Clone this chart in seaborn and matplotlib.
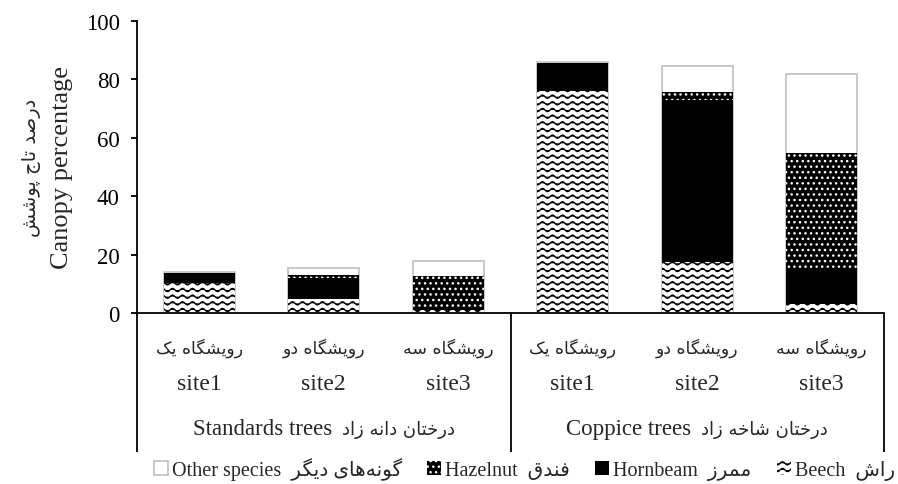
"""Canopy percentage of species in standards vs coppice stands (stacked bars)."""
import warnings

import matplotlib
matplotlib.use("Agg")
import matplotlib.hatch as mhatch
import matplotlib.pyplot as plt
import numpy as np
import pandas as pd
import seaborn as sns
from matplotlib.patches import Patch
from matplotlib.path import Path

warnings.filterwarnings("ignore")

# ---------------------------------------------------------------- data
SITES = ["site1", "site2", "site3", "site1", "site2", "site3"]
SITES_FA = ["رویشگاه یک", "رویشگاه دو", "رویشگاه سه",
            "رویشگاه یک", "رویشگاه دو", "رویشگاه سه"]
GROUPS = ["Standards trees", "Coppice trees"]
GROUPS_FA = ["درختان دانه زاد", "درختان شاخه زاد"]
SPECIES = ["Beech", "Hornbeam", "Hazelnut", "Other species"]
SPECIES_FA = ["راش", "ممرز", "فندق", "گونه‌های دیگر"]
YLABEL = "Canopy percentage"
YLABEL_FA = "درصد تاج پوشش"

beech = [10.2, 4.8, 1.0, 76.1, 17.4, 3.1]
hornbeam = [3.5, 7.2, 0.3, 9.3, 55.4, 12.0]
hazelnut = [0.0, 1.0, 11.2, 0.3, 2.8, 39.7]
other = [0.3, 2.4, 5.2, 0.3, 8.9, 27.0]

SERIF = ["Liberation Serif", "DejaVu Sans"]
ARABIC = ["DejaVu Sans"]


# ---------------------------------------------------------------- persian shaping
# (isolated, final, initial, medial) presentation forms
FORMS = {
    "ا": ("\uFE8D", "\uFE8E", None, None),
    "پ": ("\uFB56", "\uFB57", "\uFB58", "\uFB59"),
    "ت": ("\uFE95", "\uFE96", "\uFE97", "\uFE98"),
    "ج": ("\uFE9D", "\uFE9E", "\uFE9F", "\uFEA0"),
    "خ": ("\uFEA5", "\uFEA6", "\uFEA7", "\uFEA8"),
    "د": ("\uFEA9", "\uFEAA", None, None),
    "ر": ("\uFEAD", "\uFEAE", None, None),
    "ز": ("\uFEAF", "\uFEB0", None, None),
    "س": ("\uFEB1", "\uFEB2", "\uFEB3", "\uFEB4"),
    "ش": ("\uFEB5", "\uFEB6", "\uFEB7", "\uFEB8"),
    "ص": ("\uFEB9", "\uFEBA", "\uFEBB", "\uFEBC"),
    "ف": ("\uFED1", "\uFED2", "\uFED3", "\uFED4"),
    "ق": ("\uFED5", "\uFED6", "\uFED7", "\uFED8"),
    "ک": ("\uFB8E", "\uFB8F", "\uFB90", "\uFB91"),
    "گ": ("\uFB92", "\uFB93", "\uFB94", "\uFB95"),
    "م": ("\uFEE1", "\uFEE2", "\uFEE3", "\uFEE4"),
    "ن": ("\uFEE5", "\uFEE6", "\uFEE7", "\uFEE8"),
    "ه": ("\uFEE9", "\uFEEA", "\uFEEB", "\uFEEC"),
    "و": ("\uFEED", "\uFEEE", None, None),
    "ی": ("\uFBFC", "\uFBFD", "\uFBFE", "\uFBFF"),
}


def fa(text):
    """Shape persian letters and return them in visual (left-to-right) order."""
    out = []
    for i, c in enumerate(text):
        if c not in FORMS:
            if c != "\u200c":
                out.append(c)
            continue
        prev = text[i - 1] if i > 0 else None
        nxt = text[i + 1] if i + 1 < len(text) else None
        join_prev = prev in FORMS and FORMS[prev][2] is not None
        join_next = FORMS[c][2] is not None and nxt in FORMS
        iso, fin, ini, med = FORMS[c]
        if join_prev and join_next:
            out.append(med)
        elif join_prev:
            out.append(fin)
        elif join_next:
            out.append(ini)
        else:
            out.append(iso)
    return "".join(out)[::-1]


# ---------------------------------------------------------------- wavy hatch
class WaveHatch(mhatch.HatchPatternBase):
    rows, waves, steps = 15, 10, 8

    def __init__(self, hatch, density):
        self.num_rows = self.rows if "z" in hatch else 0
        self.pts = self.waves * self.steps + 1
        self.num_vertices = self.num_rows * self.pts

    def set_vertices_and_codes(self, vertices, codes):
        xs = np.linspace(0.0, 1.0, self.pts)
        for k in range(self.num_rows):
            seg = slice(k * self.pts, (k + 1) * self.pts)
            vertices[seg, 0] = xs
            vertices[seg, 1] = (k + 0.5) / self.num_rows + 0.016 * np.sin(2 * np.pi * self.waves * xs)
            codes[seg] = Path.LINETO
            codes[k * self.pts] = Path.MOVETO


mhatch._hatch_types.append(WaveHatch)

STYLES = {
    "Other species": dict(color="white", edgecolor="#bfbfbf", linewidth=1.2),
    "Hazelnut": dict(color="black", edgecolor="white", linewidth=0, hatch="..."),
    "Hornbeam": dict(color="black", edgecolor="black", linewidth=0),
    "Beech": dict(color="white", edgecolor="black", linewidth=0, hatch="z"),
}


def main():
    sns.set_style("ticks")
    plt.rcParams["font.family"] = SERIF
    plt.rcParams["hatch.linewidth"] = 1.0

    df = pd.DataFrame({"bar": range(len(SITES)), "Beech": beech, "Hornbeam": hornbeam,
                       "Hazelnut": hazelnut, "Other species": other})
    cum = df[SPECIES].cumsum(axis=1)
    cum["bar"] = df["bar"]

    fig = plt.figure(figsize=(8.98, 4.85), dpi=100)
    ax = fig.add_axes([0.1526, 0.3526, 0.8318, 0.6021])

    # stacked bars: draw cumulative totals from the top series down
    for sp in SPECIES[::-1]:
        st = dict(STYLES[sp])
        col = st.pop("color")
        sns.barplot(data=cum, x="bar", y=sp, color=col, saturation=1, width=0.57,
                    errorbar=None, ax=ax, **st)

    ax.set_xlim(-0.5, 5.5)
    ax.set_ylim(0, 100)
    ax.set_yticks(range(0, 101, 20))
    ax.set_xlabel("")
    ax.set_ylabel("")
    ax.tick_params(axis="x", length=0, labelbottom=False)
    ax.tick_params(axis="y", length=4.5, width=1.3, pad=8, labelsize=16.5, colors="black")
    for s in ["top", "right"]:
        ax.spines[s].set_visible(False)
    for s in ["left", "bottom"]:
        ax.spines[s].set_linewidth(1.3)
        ax.spines[s].set_color("black")

    xt = ax.get_xaxis_transform()
    for i in range(len(SITES)):
        ax.text(i, -0.116, fa(SITES_FA[i]), transform=xt, ha="center", va="center",
                family=ARABIC, fontsize=12.5)
        ax.text(i, -0.243, SITES[i], transform=xt, ha="center", va="center", fontsize=17)
    for xb in [-0.5, 2.5, 5.5]:
        ax.plot([xb, xb], [0, -0.476], transform=xt, color="black", lw=1.3,
                clip_on=False, solid_capstyle="butt")

    # group labels: english + persian, centred together under each group
    renderer = fig.canvas.get_renderer()
    inv = ax.transData.inverted()
    gap = 10
    for g in range(len(GROUPS)):
        cx = 3 * g + 1
        t_en = ax.text(cx, -0.397, GROUPS[g], transform=xt, ha="right", va="center",
                       fontsize=16.5)
        t_fa = ax.text(cx, -0.397, fa(GROUPS_FA[g]), transform=xt, ha="left", va="center",
                       family=ARABIC, fontsize=13)
        w_en = t_en.get_window_extent(renderer).width
        w_fa = t_fa.get_window_extent(renderer).width
        px = ax.transData.transform((cx, 0))[0] + (w_en - w_fa) / 2
        t_en.set_x(inv.transform((px - gap / 2, 0))[0])
        t_fa.set_x(inv.transform((px + gap / 2, 0))[0])

    ax.text(-0.100, 0.5, YLABEL, transform=ax.transAxes, rotation=90,
            ha="center", va="center", fontsize=19)
    ax.text(-0.141, 0.5, fa(YLABEL_FA), transform=ax.transAxes, rotation=90,
            ha="center", va="center", family=ARABIC, fontsize=14)

    # legend, right-to-left order
    handles, labels = [], []
    for sp, sp_fa in list(zip(SPECIES, SPECIES_FA))[::-1]:
        st = dict(STYLES[sp])
        handles.append(Patch(facecolor=st.pop("color"), **st))
        labels.append(sp + "  " + fa(sp_fa))
    fig.legend(handles, labels, ncol=4, loc="center right", bbox_to_anchor=(0.999, 0.031),
               frameon=False, borderpad=0.1, borderaxespad=0, handlelength=0.7,
               handleheight=0.7, handletextpad=0.2, columnspacing=1.25,
               prop={"family": SERIF, "size": 14.5})

    fig.savefig("out.png", dpi=100)
    plt.close(fig)


if __name__ == "__main__":
    main()
